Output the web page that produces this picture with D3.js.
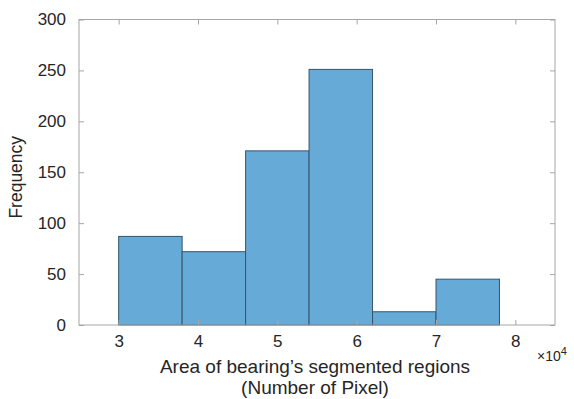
<!DOCTYPE html>
<html>
<head>
<meta charset="utf-8">
<script src="https://cdn.jsdelivr.net/npm/d3@7"></script>
<style>
  body { margin: 0; background: #fff; }
  svg { font-family: "Liberation Sans", Arial, sans-serif; }
</style>
</head>
<body>
<div id="chart"></div>
<script>
// histogram bins (x in units of 1e4 pixels)
const binEdges = [3.0, 3.8, 4.6, 5.4, 6.2, 7.0, 7.8];
const binCounts = [87, 72, 171, 251, 13, 45];
const xTicks = [3, 4, 5, 6, 7, 8];
const yTicks = [0, 50, 100, 150, 200, 250, 300];

const W = 574, H = 399;
const margin = { top: 19.5, right: 19, bottom: 74, left: 79 };
const width = W - margin.left - margin.right;
const height = H - margin.top - margin.bottom;
const axisColor = "#a6a6a6";
const textColor = "#262626";

const svg = d3.select("#chart").append("svg")
  .attr("width", W)
  .attr("height", H);

const g = svg.append("g")
  .attr("transform", `translate(${margin.left},${margin.top})`);

const x = d3.scaleLinear().domain([2.5, 8.5]).range([0, width]);
const y = d3.scaleLinear().domain([0, 300]).range([height, 0]);

const bins = binCounts.map((c, i) => ({ x0: binEdges[i], x1: binEdges[i + 1], count: c }));

g.selectAll(".bar")
  .data(bins)
  .enter().append("rect")
  .attr("class", "bar")
  .attr("x", d => x(d.x0))
  .attr("y", d => y(d.count))
  .attr("width", d => x(d.x1) - x(d.x0))
  .attr("height", d => y(0) - y(d.count))
  .attr("fill", "#66aad7")
  .attr("stroke", "#36556c")
  .attr("stroke-width", 1);

// box
g.append("rect")
  .attr("x", 0).attr("y", 0)
  .attr("width", width).attr("height", height)
  .attr("fill", "none")
  .attr("stroke", axisColor)
  .attr("stroke-width", 1);

const tickLen = 5;

// x ticks, bottom and top, pointing inward
const xAxisB = d3.axisBottom(x).tickValues(xTicks).tickFormat(d3.format("d"))
  .tickSizeInner(-tickLen).tickSizeOuter(0).tickPadding(10);
g.append("g")
  .attr("transform", `translate(0,${height})`)
  .call(xAxisB)
  .call(a => a.select(".domain").remove())
  .call(a => a.selectAll("line").attr("stroke", axisColor))
  .call(a => a.selectAll("text").attr("fill", textColor).attr("font-size", 17));

const xAxisT = d3.axisTop(x).tickValues(xTicks).tickSizeInner(-tickLen).tickSizeOuter(0).tickFormat("");
g.append("g")
  .call(xAxisT)
  .call(a => a.select(".domain").remove())
  .call(a => a.selectAll("line").attr("stroke", axisColor));

// y ticks, left and right
const yAxisL = d3.axisLeft(y).tickValues(yTicks).tickFormat(d3.format("d"))
  .tickSizeInner(-tickLen).tickSizeOuter(0).tickPadding(13);
g.append("g")
  .call(yAxisL)
  .call(a => a.select(".domain").remove())
  .call(a => a.selectAll("line").attr("stroke", axisColor))
  .call(a => a.selectAll("text").attr("fill", textColor).attr("font-size", 17));

const yAxisR = d3.axisRight(y).tickValues(yTicks).tickSizeInner(-tickLen).tickSizeOuter(0).tickFormat("");
g.append("g")
  .attr("transform", `translate(${width},0)`)
  .call(yAxisR)
  .call(a => a.select(".domain").remove())
  .call(a => a.selectAll("line").attr("stroke", axisColor));

// exponent label
const expo = g.append("text")
  .attr("x", width - 18)
  .attr("y", height + 36)
  .attr("fill", textColor)
  .attr("font-size", 14);
expo.append("tspan").text("×10");
expo.append("tspan").attr("dy", -6).attr("font-size", 11).text("4");

// axis labels
g.append("text")
  .attr("x", width / 2 - 2)
  .attr("y", height + 48)
  .attr("text-anchor", "middle")
  .attr("fill", textColor)
  .attr("font-size", 19)
  .text("Area of bearing’s segmented regions");

g.append("text")
  .attr("x", width / 2 - 2)
  .attr("y", height + 69)
  .attr("text-anchor", "middle")
  .attr("fill", textColor)
  .attr("font-size", 19)
  .text("(Number of Pixel)");

g.append("text")
  .attr("transform", `translate(${-margin.left + 21.5},${height / 2 + 5}) rotate(-90)`)
  .attr("text-anchor", "middle")
  .attr("fill", textColor)
  .attr("font-size", 17.5)
  .text("Frequency");
</script>
</body>
</html>
